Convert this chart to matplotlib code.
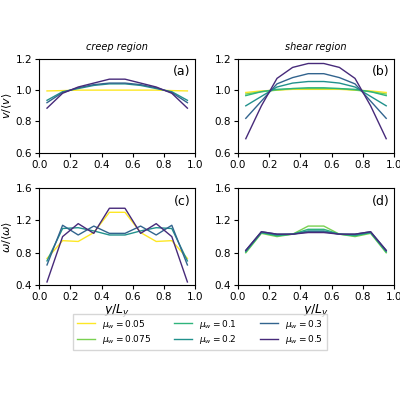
import matplotlib
matplotlib.use('Agg')
import matplotlib.pyplot as plt

y = [0.05, 0.15, 0.25, 0.35, 0.45, 0.55, 0.65, 0.75, 0.85, 0.95]
mu = ['0.05', '0.075', '0.1', '0.2', '0.3', '0.5']
shade = [1.0, 0.8, 0.65, 0.5, 0.32, 0.12]


def sym(half):
    return half + half[::-1]


# v/<v>, creep region
v_creep = {
    '0.05': sym([0.995, 0.997, 1.0, 1.0, 1.0]),
    '0.2': sym([0.935, 0.99, 1.01, 1.03, 1.04]),
    '0.3': sym([0.92, 0.985, 1.015, 1.035, 1.045]),
    '0.5': sym([0.885, 0.98, 1.02, 1.045, 1.07]),
}
# v/<v>, shear region
v_shear = {
    '0.05': sym([0.985, 0.995, 1.0, 1.005, 1.005]),
    '0.075': sym([0.975, 0.99, 1.0, 1.01, 1.01]),
    '0.1': sym([0.965, 0.99, 1.005, 1.01, 1.015]),
    '0.2': sym([0.90, 0.96, 1.02, 1.045, 1.055]),
    '0.3': sym([0.82, 0.93, 1.04, 1.08, 1.105]),
    '0.5': sym([0.69, 0.90, 1.075, 1.145, 1.17]),
}
# w/<w>, creep region
w_creep = {
    '0.05': sym([0.73, 0.95, 0.94, 1.05, 1.30]),
    '0.2': sym([0.70, 1.10, 1.11, 1.07, 1.02]),
    '0.3': sym([0.65, 1.14, 1.02, 1.13, 1.04]),
    '0.5': sym([0.44, 1.00, 1.16, 1.04, 1.35]),
}
# w/<w>, shear region
w_shear = {
    '0.075': sym([0.80, 1.04, 1.00, 1.03, 1.13]),
    '0.1': sym([0.81, 1.05, 1.01, 1.03, 1.09]),
    '0.2': sym([0.82, 1.05, 1.02, 1.03, 1.07]),
    '0.3': sym([0.83, 1.06, 1.03, 1.03, 1.06]),
    '0.5': sym([0.83, 1.06, 1.03, 1.03, 1.05]),
}

cmap = plt.get_cmap('viridis')
colors = {m: cmap(s) for m, s in zip(mu, shade)}

fig = plt.figure(figsize=(4, 4), dpi=100)
pos = [[0.098, 0.618, 0.39, 0.235], [0.595, 0.618, 0.39, 0.235],
       [0.098, 0.287, 0.39, 0.243], [0.595, 0.287, 0.39, 0.243]]
datas = [v_creep, v_shear, w_creep, w_shear]
tags = ['(a)', '(b)', '(c)', '(d)']
axes = []
for p, d, t in zip(pos, datas, tags):
    ax = fig.add_axes(p)
    for m in mu:
        if m in d:
            ax.plot(y, d[m], color=colors[m], lw=1)
    ax.set_xlim(0, 1)
    ax.set_xticks([0, 0.2, 0.4, 0.6, 0.8, 1.0])
    ax.text(0.97, 0.93, t, transform=ax.transAxes, ha='right', va='top', fontsize=9)
    ax.tick_params(labelsize=7.5, pad=2, length=3)
    axes.append(ax)

for ax in axes[:2]:
    ax.set_ylim(0.6, 1.2)
    ax.set_yticks([0.6, 0.8, 1.0, 1.2])
for ax in axes[2:]:
    ax.set_ylim(0.4, 1.6)
    ax.set_yticks([0.4, 0.8, 1.2, 1.6])
    ax.set_xlabel(r'$y/L_y$', fontsize=9, labelpad=0)

axes[0].set_title('creep region', fontsize=7, style='italic')
axes[1].set_title('shear region', fontsize=7, style='italic')
axes[0].set_ylabel(r'$v/\langle v\rangle$', fontsize=8, labelpad=1)
axes[2].set_ylabel(r'$\omega/\langle\omega\rangle$', fontsize=8, labelpad=1)

handles = [plt.Line2D([], [], color=colors[m], lw=1) for m in mu]
labels = [r'$\mu_w = %s$' % m for m in mu]
fig.legend(handles, labels, ncol=3, fontsize=6.5, loc='center',
           bbox_to_anchor=(0.5, 0.17), fancybox=False, columnspacing=2.5,
           labelspacing=0.3, borderpad=0.4)

fig.savefig('out.png', dpi=100)
